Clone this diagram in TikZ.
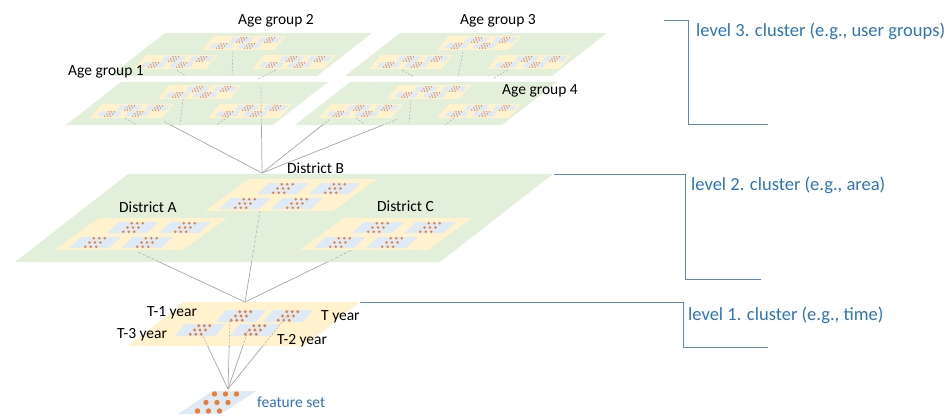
\documentclass[tikz,border=0pt]{standalone}
\usepackage{fontspec}
\setmainfont{Carlito}
\definecolor{pgreen}{HTML}{E2EFDA}
\definecolor{pyellow}{HTML}{FFF2CC}
\definecolor{pblue}{HTML}{DEEBF7}
\definecolor{porange}{HTML}{ED7D31}
\definecolor{lgray}{HTML}{A6A6A6}
\definecolor{dgray}{HTML}{B4B4B4}
\definecolor{tblue}{HTML}{2E75B6}
\definecolor{bblue}{HTML}{5B87D0}
% parallelogram: style, x, y (bottom-left), width, height, skew
\newcommand\prl[6]{\fill[#1] (#2,#3) -- ++(#4,0) -- ++(#6,-#5) -- ++(-#4,0) -- cycle;}
% 3x3 dot grid: cx, cy, scale, radius
\newcommand\dotgrid[4]{\foreach \i in {-1,0,1}{\foreach \j in {-1,0,1}{%
  \fill[porange] ({#1+#3*(11*\j-8.5*\i)},{#2+#3*8.5*\i}) circle[radius=#4pt];}}}
% tile: x, y, w, h, k, dot scale, dot radius
\newcommand\mytile[7]{\prl{pblue}{#1}{#2}{#3}{#4}{#5}%
  \dotgrid{#1+#3/2+#5/2}{#2-#4/2}{#6}{#7}}
\newcommand\distmod[2]{%
  \prl{pyellow}{#1}{#2}{128}{32}{44}%
  \mytile{#1+14}{#2-2}{40}{11}{12}{0.5}{1.4}%
  \mytile{#1+66}{#2-2}{40}{11}{12}{0.5}{1.4}%
  \mytile{#1+52}{#2-17}{40}{11}{12}{0.5}{1.4}%
  \mytile{#1+104}{#2-17}{40}{11}{12}{0.5}{1.4}}
\newcommand\agmod[2]{%
  \prl{pyellow}{#1}{#2}{72}{14}{12}%
  \mytile{#1+7}{#2-1.5}{21}{5}{4}{0.25}{0.75}%
  \mytile{#1+35}{#2-1.5}{21}{5}{4}{0.25}{0.75}%
  \mytile{#1+27}{#2-7.5}{21}{5}{4}{0.25}{0.75}%
  \mytile{#1+55}{#2-7.5}{21}{5}{4}{0.25}{0.75}}
\newcommand\agpanel[2]{%
  \prl{pgreen}{#1}{#2}{207}{43}{55}%
  \agmod{#1+24}{#2-7}%
  \agmod{#1+142}{#2-7}%
  \agmod{#1+92}{#2-26}}
\tikzset{
  conn/.style={draw=lgray, line width=0.7pt},
  dconn/.style={draw=dgray, line width=0.6pt, dash pattern=on 2pt off 1.5pt},
  bracket/.style={draw=bblue, line width=1pt},
  lab/.style={inner sep=0pt, anchor=base west, font=\fontsize{15.5}{18}\selectfont},
  blab/.style={inner sep=0pt, anchor=base west, text=tblue, font=\fontsize{18.5}{22}\selectfont},
}
\begin{document}
\begin{tikzpicture}[x=1pt,y=-1pt]
\useasboundingbox (0,0) rectangle (952,417);
% ---------- level 3 ----------
\agpanel{110}{76}
\agpanel{345}{76}
\agpanel{66}{125}
\agpanel{295}{125}
% ---------- level 2 ----------
\prl{pgreen}{15}{262}{425}{88}{113}
\distmod{205}{211}
\distmod{55}{250}
\distmod{300}{250}
% ---------- level 1 ----------
\prl{pyellow}{128}{346}{176}{44}{56}
\mytile{216}{322}{40}{12}{10}{0.5}{1.6}
\mytile{263}{322}{40}{12}{10}{0.5}{1.6}
\mytile{175}{336}{40}{12}{10}{0.5}{1.6}
\mytile{230}{336}{40}{12}{10}{0.5}{1.6}
% ---------- feature set ----------
\mytile{178}{414}{43}{23}{35}{1}{2.7}
% ---------- connector end points ----------
\coordinate (fs) at (228,389);
\coordinate (t3) at (200,330);
\coordinate (t1) at (230,318);
\coordinate (t2) at (248,331);
\coordinate (t0) at (287,316);
\coordinate (l1) at (245,302);
\coordinate (dA) at (138,252);
\coordinate (dB) at (260,211);
\coordinate (dC) at (352,250);
\coordinate (l2) at (262,173);
\coordinate (g1) at (163,121);
\coordinate (g2) at (261,86);
\coordinate (g3) at (330,119);
\coordinate (g4) at (398,119);
% solid parts (outside layers)
\begin{scope}
  \clip (0,346) rectangle (952,417);
  \foreach \t in {t3,t1,t2,t0} \draw[conn] (fs) -- (\t);
\end{scope}
\begin{scope}
  \clip (0,262) rectangle (952,346);
  \foreach \t in {dA,dB,dC} \draw[conn] (l1) -- (\t);
\end{scope}
\begin{scope}
  \clip (0,125.5) rectangle (952,262);
  \foreach \t in {g1,g2,g3,g4} \draw[conn] (l2) -- (\t);
\end{scope}
% dashed parts (across layers)
\begin{scope}
  \clip (0,0) rectangle (952,346);
  \foreach \t in {t3,t1,t2,t0} \draw[dconn] (fs) -- (\t);
\end{scope}
\begin{scope}
  \clip (0,0) rectangle (952,262);
  \foreach \t in {dA,dB,dC} \draw[dconn,dash pattern=on 3pt off 2pt] (l1) -- (\t);
\end{scope}
\begin{scope}
  \clip (0,0) rectangle (952,125.5);
  \foreach \t in {g1,g2,g3,g4} \draw[dconn] (l2) -- (\t);
\end{scope}
% short dashed drops below the level-3 modules
% Age group 1
\coordinate (a1a) at (125,118); \coordinate (a1b) at (137,125);
\coordinate (a1c) at (183,99);  \coordinate (a1d) at (180,125);
\coordinate (a1e) at (228,117); \coordinate (a1f) at (216,125);
% Age group 2
\coordinate (a2a) at (177,70);  \coordinate (a2b) at (186,76);
\coordinate (a2c) at (233,52);  \coordinate (a2d) at (232,76);
\coordinate (a2e) at (276,70);  \coordinate (a2f) at (258,79);
% Age group 3
\coordinate (a3a) at (402,70);  \coordinate (a3b) at (414,77);
\coordinate (a3c) at (463,52);  \coordinate (a3d) at (458,77);
\coordinate (a3e) at (508,70);  \coordinate (a3f) at (494,78);
% Age group 4
\coordinate (a4a) at (356,118); \coordinate (a4b) at (364,124);
\coordinate (a4c) at (411,100); \coordinate (a4d) at (409,124);
\coordinate (a4e) at (454,118); \coordinate (a4f) at (445,125);
\foreach \p/\q in {a1a/a1b,a1c/a1d,a1e/a1f,a2a/a2b,a2c/a2d,a2e/a2f,
                   a3a/a3b,a3c/a3d,a3e/a3f,a4a/a4b,a4c/a4d,a4e/a4f}
  \draw[dconn] (\p) -- (\q);
% ---------- brackets ----------
\coordinate (b3a) at (664,21);
\coordinate (b3b) at (688,21);
\coordinate (b3c) at (688,124);
\coordinate (b3d) at (768,124);
\coordinate (b2a) at (554,174);
\coordinate (b2b) at (685,174);
\coordinate (b2c) at (685,279);
\coordinate (b2d) at (761,279);
\coordinate (b1a) at (360,302);
\coordinate (b1b) at (683,302);
\coordinate (b1c) at (683,347);
\coordinate (b1d) at (768,347);
\draw[bracket] (b3a) -- (b3b) -- (b3c) -- (b3d);
\draw[bracket] (b2a) -- (b2b) -- (b2c) -- (b2d);
\draw[bracket] (b1a) -- (b1b) -- (b1c) -- (b1d);
% ---------- labels ----------
\node[lab] (lag2) at (238,25) {Age group 2};
\node[lab] (lag3) at (460,25) {Age group 3};
\node[lab] (lag1) at (68,76) {Age group 1};
\node[lab] (lag4) at (502,95) {Age group 4};
\node[lab] (ldB) at (287,173) {District B};
\node[lab] (ldA) at (119,212) {District A};
\node[lab] (ldC) at (377,211) {District C};
\node[lab] (lt1) at (147,316) {T-1 year};
\node[lab] (lt0) at (321,320) {T year};
\node[lab] (lt3) at (117,338) {T-3 year};
\node[lab] (lt2) at (277,344) {T-2 year};
\node[lab, text=tblue] (lfs) at (257,407) {feature set};
\node[blab] (lv3) at (696,37) {level 3. cluster (e.g., user groups)};
\node[blab] (lv2) at (691,190) {level 2. cluster (e.g., area)};
\node[blab] (lv1) at (688,320) {level 1. cluster (e.g., time)};
\end{tikzpicture}
\end{document}
